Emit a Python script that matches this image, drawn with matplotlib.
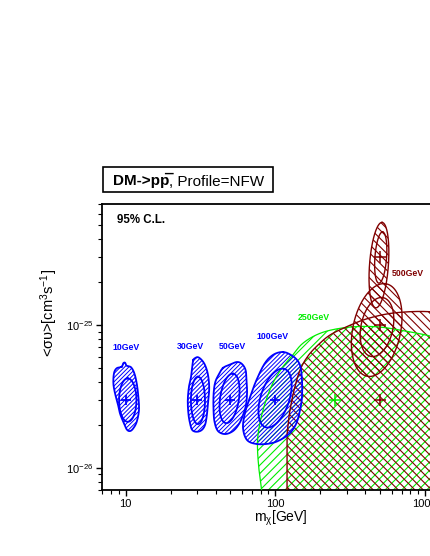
import numpy as np
import matplotlib
matplotlib.use('Agg')
import matplotlib.pyplot as plt
from matplotlib.patches import PathPatch, Rectangle
from matplotlib.path import Path
from matplotlib.ticker import FixedLocator, FixedFormatter, LogLocator, NullFormatter

plt.rcParams['font.family'] = ['Liberation Sans', 'DejaVu Sans']
plt.rcParams['mathtext.fontset'] = 'custom'
plt.rcParams['mathtext.rm'] = 'Liberation Sans'
plt.rcParams['mathtext.it'] = 'Liberation Sans'
plt.rcParams['mathtext.bf'] = 'Liberation Sans:bold'
plt.rcParams['hatch.linewidth'] = 0.8

# ---------------- data ----------------
# best-fit points (mass in GeV, <sigma v> in cm^3 s^-1)
blue_mass = [10, 30, 50, 100]
blue_sigma = [3e-26, 3e-26, 3e-26, 3e-26]
green_mass = [250]
green_sigma = [3e-26]
red_mass = [500, 500, 500]
red_sigma = [3e-25, 1e-25, 3e-26]

blue_labels = ['10GeV', '30GeV', '50GeV', '100GeV']
green_labels = ['250GeV']
red_labels = ['500GeV']

# 95% C.L. outer contours (log10 mass, log10 sigma v)
c10_lm = [0.975, 0.941, 0.923, 0.919, 0.930, 0.948, 0.963, 0.985, 1.008, 1.030,
          1.052, 1.075, 1.090, 1.086, 1.075, 1.059, 1.037, 1.008, 0.997, 0.985]
c10_ls = [-25.292, -25.303, -25.338, -25.409, -25.479, -25.549, -25.619, -25.678,
          -25.731, -25.743, -25.724, -25.678, -25.596, -25.503, -25.409, -25.338,
          -25.296, -25.285, -25.264, -25.268]
c30_lm = [1.453, 1.446, 1.438, 1.424, 1.416, 1.420, 1.431, 1.446, 1.476, 1.509,
          1.531, 1.542, 1.549, 1.558, 1.558, 1.549, 1.531, 1.509, 1.486, 1.469]
c30_ls = [-25.245, -25.292, -25.362, -25.432, -25.526, -25.619, -25.689, -25.736,
          -25.748, -25.736, -25.701, -25.643, -25.573, -25.479, -25.409, -25.338,
          -25.280, -25.245, -25.226, -25.229]
c50_lm = [1.651, 1.698, 1.745, 1.778, 1.802, 1.808, 1.812, 1.805, 1.785, 1.758,
          1.718, 1.665, 1.618, 1.595, 1.588, 1.588, 1.598, 1.621]
c50_ls = [-25.301, -25.277, -25.259, -25.273, -25.315, -25.385, -25.470, -25.561,
          -25.631, -25.694, -25.743, -25.764, -25.743, -25.680, -25.596, -25.491,
          -25.406, -25.350]
c100_lm = [2.052, 2.106, 2.146, 2.169, 2.179, 2.179, 2.166, 2.142, 2.099, 2.032,
           1.965, 1.878, 1.812, 1.785, 1.798, 1.832, 1.875, 1.932, 1.989]
c100_ls = [-25.189, -25.210, -25.245, -25.294, -25.385, -25.505, -25.596, -25.687,
           -25.757, -25.806, -25.830, -25.834, -25.806, -25.722, -25.617, -25.505,
           -25.385, -25.266, -25.207]

# large open regions (boundary, log10 values)
green_lm = [1.912, 1.909, 1.892, 1.882, 1.885, 1.905, 1.939, 1.985, 2.045, 2.112,
            2.179, 2.273, 2.386, 2.540, 2.700, 2.867, 3.034, 3.235, 3.502]
green_ls = [-26.226, -26.156, -26.016, -25.876, -25.771, -25.652, -25.526, -25.406,
            -25.301, -25.217, -25.133, -25.070, -25.032, -25.011, -25.014, -25.042,
            -25.077, -25.140, -25.245]
red_lm = [2.079, 2.079, 2.086, 2.099, 2.126, 2.166, 2.219, 2.286, 2.366, 2.473,
          2.607, 2.767, 2.947, 3.101, 3.301, 3.502]
red_ls = [-26.226, -25.806, -25.701, -25.596, -25.456, -25.315, -25.217, -25.140,
          -25.070, -25.014, -24.958, -24.919, -24.905, -24.912, -24.937, -25.035]

# elliptical contours: centre log10 m, centre log10 sv, semi-major, semi-minor (decades), angle (deg)
blue_inner = [(1.015, -25.526, 0.152, 0.058, 90),
              (1.484, -25.528, 0.166, 0.047, 90),
              (1.695, -25.514, 0.175, 0.063, 82),
              (1.999, -25.512, 0.214, 0.096, 73)]
red_outer = [(2.693, -24.580, 0.300, 0.063, 86),
             (2.678, -25.035, 0.330, 0.160, 79)]
red_inner = [(2.705, -24.527, 0.180, 0.039, 86),
             (2.680, -25.014, 0.210, 0.107, 79)]

x_ticks = [10, 100, 1000]
x_ticklabels = ['10', '100', '1000']
y_ticks = [1e-26, 1e-25]
y_ticklabels = [r'$10^{-26}$', r'$10^{-25}$']

BLUE = '#0000ff'
GREEN = '#00ee00'
RED = '#800000'


def smooth_closed(x, y, n=14):
    P = np.column_stack([x, y])
    N = len(P)
    t = np.linspace(0, 1, n, endpoint=False)[:, None]
    out = []
    for i in range(N):
        p0, p1, p2, p3 = P[i - 1], P[i], P[(i + 1) % N], P[(i + 2) % N]
        out.append(0.5 * (2 * p1 + (-p0 + p2) * t + (2 * p0 - 5 * p1 + 4 * p2 - p3) * t ** 2
                          + (-p0 + 3 * p1 - 3 * p2 + p3) * t ** 3))
    out = np.vstack(out + [P[:1]])
    return out[:, 0], out[:, 1]


def smooth_open(x, y, n=14):
    P = np.column_stack([x, y])
    P = np.vstack([P[:1], P, P[-1:]])
    t = np.linspace(0, 1, n, endpoint=False)[:, None]
    out = []
    for i in range(1, len(P) - 2):
        p0, p1, p2, p3 = P[i - 1], P[i], P[i + 1], P[i + 2]
        out.append(0.5 * (2 * p1 + (-p0 + p2) * t + (2 * p0 - 5 * p1 + 4 * p2 - p3) * t ** 2
                          + (-p0 + 3 * p1 - 3 * p2 + p3) * t ** 3))
    out = np.vstack(out + [P[-2:-1]])
    return out[:, 0], out[:, 1]


def ellipse(cx, cy, a, b, ang):
    t = np.linspace(0, 2 * np.pi, 200)
    th = np.deg2rad(ang)
    x = a * np.cos(t) * np.cos(th) - b * np.sin(t) * np.sin(th)
    y = a * np.cos(t) * np.sin(th) + b * np.sin(t) * np.cos(th)
    return cx + x, cy + y


def hatch_region(ax, lx, ly, color, hatch, z, hlw):
    verts = np.column_stack([10 ** np.asarray(lx), 10 ** np.asarray(ly)])
    with plt.rc_context({'hatch.linewidth': hlw}):
        p = PathPatch(Path(verts), facecolor='none', edgecolor=color, lw=0,
                      hatch=hatch, zorder=z)
    ax.add_patch(p)


def outline(ax, lx, ly, color, lw, z):
    ax.plot(10 ** np.asarray(lx), 10 ** np.asarray(ly), color=color, lw=lw, zorder=z)


# ---------------- figure ----------------
W, H = 430, 556
fig = plt.figure(figsize=(W / 100, H / 100), dpi=100)
xlim = (10 ** 0.845, 2000.0)
ylim = (10 ** -26.156, 10 ** -24.152)
px_dec_x, px_dec_y = 149.7, 142.7
ax_w = (np.log10(xlim[1]) - np.log10(xlim[0])) * px_dec_x
ax_h = (np.log10(ylim[1]) - np.log10(ylim[0])) * px_dec_y
ax = fig.add_axes([102.3 / W, (H - 490) / H, ax_w / W, ax_h / H])
ax.set_xscale('log')
ax.set_yscale('log')
ax.set_xlim(*xlim)
ax.set_ylim(*ylim)

HB = '/' * 8
HG = '/' * 4
HR = '\\' * 4

# green (250 GeV) region
gx, gy = smooth_open(green_lm, green_ls)
hatch_region(ax, np.r_[gx, gx[-1]], np.r_[gy, gy[0]], GREEN, HG, 1, 0.8)
outline(ax, gx, gy, GREEN, 0.9, 3)

# red (500 GeV) regions
rx, ry = smooth_open(red_lm, red_ls)
hatch_region(ax, np.r_[rx, rx[-1]], np.r_[ry, ry[0]], RED, HR, 1.1, 0.8)
outline(ax, rx, ry, RED, 1.0, 3)
for e in red_outer:
    ex, ey = ellipse(*e)
    hatch_region(ax, ex, ey, RED, HR, 1.2, 0.8)
    outline(ax, ex, ey, RED, 1.0, 3)
for e in red_inner:
    ex, ey = ellipse(*e)
    outline(ax, ex, ey, RED, 1.0, 3)

# blue regions
for lm, ls in [(c10_lm, c10_ls), (c30_lm, c30_ls), (c50_lm, c50_ls), (c100_lm, c100_ls)]:
    bx, by = smooth_closed(lm, ls)
    hatch_region(ax, bx, by, BLUE, HB, 2, 0.7)
    outline(ax, bx, by, BLUE, 1.3, 3.5)
for e in blue_inner:
    ex, ey = ellipse(*e)
    outline(ax, ex, ey, BLUE, 1.3, 3.5)

# best-fit markers
ax.plot(blue_mass, blue_sigma, ls='none', marker='+', ms=7.5, mew=1.3, color=BLUE, zorder=5)
ax.plot(green_mass, green_sigma, ls='none', marker='+', ms=8, mew=1.1, color=GREEN, zorder=5)
ax.plot(red_mass, red_sigma, ls='none', marker='+', ms=8, mew=1.1, color=RED, zorder=5)

# mass labels
blue_label_pos = [(10.1, 7.0e-26), (27.1, 7.05e-26), (52, 7.1e-26), (96.6, 8.3e-26)]
for lab, (xm, ys) in zip(blue_labels, blue_label_pos):
    ax.text(xm, ys, lab, color=BLUE, fontsize=6.3, fontweight='bold', ha='center', va='center', zorder=6)
ax.text(180, 1.13e-25, green_labels[0], color=GREEN, fontsize=6.3, fontweight='bold',
        ha='center', va='center', zorder=6)
ax.text(774, 2.3e-25, red_labels[0], color=RED, fontsize=6.3, fontweight='bold',
        ha='center', va='center', zorder=6)

# axes styling
for s in ['left', 'bottom', 'top']:
    ax.spines[s].set_linewidth(1.3)
ax.spines['right'].set_visible(False)
ax.xaxis.set_major_locator(FixedLocator(x_ticks))
ax.xaxis.set_major_formatter(FixedFormatter(x_ticklabels))
ax.yaxis.set_major_locator(FixedLocator(y_ticks))
ax.yaxis.set_major_formatter(FixedFormatter(y_ticklabels))
ax.xaxis.set_minor_locator(LogLocator(base=10, subs=np.arange(2, 10)))
ax.yaxis.set_minor_locator(LogLocator(base=10, subs=np.arange(2, 10)))
ax.xaxis.set_minor_formatter(NullFormatter())
ax.yaxis.set_minor_formatter(NullFormatter())
ax.tick_params(which='major', direction='out', length=4.5, width=1.0, labelsize=8, pad=2)
ax.tick_params(which='minor', direction='out', length=2.8, width=0.8)

fig.text(116.7 / W, 1 - 223.3 / H, '95% C.L.', fontsize=8.3, fontweight='bold', va='baseline')

# title box
fig.add_artist(Rectangle((103.3 / W, 1 - 191.7 / H), (272.7 - 103.3) / W, 24.4 / H,
                         transform=fig.transFigure, fill=False, lw=1.2, ec='black'))
t1 = fig.text(112.7 / W, 1 - 185.5 / H, 'DM->pp\u0305', fontsize=11, fontweight='bold', va='baseline')
fig.canvas.draw()
bb = t1.get_window_extent()
fig.text(bb.x1 / fig.bbox.width, 1 - 185.5 / H, ', Profile=NFW', fontsize=11, va='baseline')

fig.text(49 / W, 1 - 313 / H, '<συ>[cm$^{3}$s$^{-1}$]', rotation=90, fontsize=10.5,
         ha='center', va='center')
fig.text(281 / W, 1 - 518.5 / H, r'm$_{\chi}$[GeV]', fontsize=10, ha='center', va='center')

fig.savefig('out.png', dpi=100)
